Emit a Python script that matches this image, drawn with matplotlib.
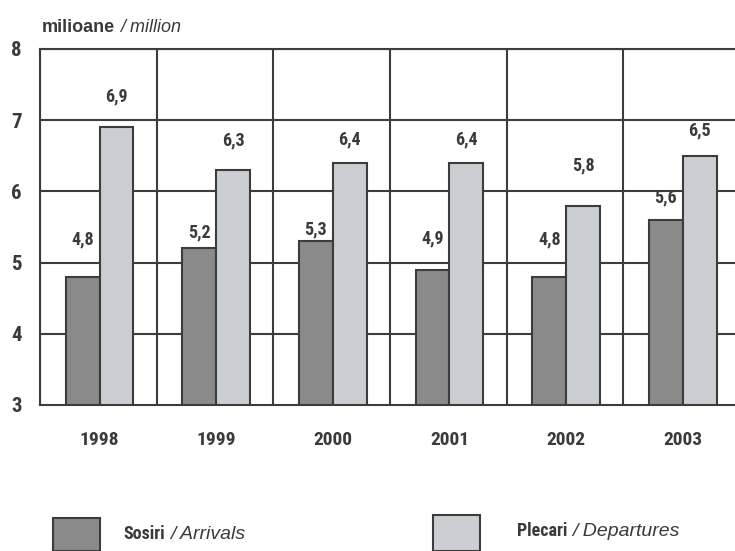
import matplotlib
matplotlib.use("Agg")
import matplotlib.pyplot as plt
from matplotlib import font_manager, patches
import numpy as np

years = ["1998", "1999", "2000", "2001", "2002", "2003"]
arrivals = [4.8, 5.2, 5.3, 4.9, 4.8, 5.6]
departures = [6.9, 6.3, 6.4, 6.4, 5.8, 6.5]
yticks = [3, 4, 5, 6, 7, 8]

# how far each value label sits above its bar, in pixels
arrivalLift = [37, 16, 12, 31, 37, 22]
departureLift = [31, 30, 23, 23, 40, 25]


def weightOf(entry):
    w = entry.weight
    return w if isinstance(w, int) else font_manager.weight_dict.get(w, 400)


def pickNarrowFont():
    candidates = ['Liberation Sans Narrow', 'Arial Narrow', 'Roboto Condensed',
                  'PT Sans Narrow', 'Archivo Narrow', 'Asap Condensed', 'Barlow Condensed']
    entries = font_manager.fontManager.ttflist
    for name in candidates:
        if any(f.name == name and weightOf(f) >= 700 for f in entries):
            return name
    return 'Liberation Sans'


narrowFont = pickNarrowFont()
wideFont = ['Liberation Sans', 'DejaVu Sans']
plt.rcParams['font.family'] = [narrowFont, 'DejaVu Sans']

darkColor = '#8a8a8a'
lightColor = '#cbced3'
edgeColor = '#3c3c3c'
textColor = '#3a3a3a'

fig = plt.figure(figsize=(7.35, 5.51), dpi=100)
ax = fig.add_axes([40 / 735, 1 - 405 / 551, 700 / 735, (405 - 49) / 551])

x = np.arange(len(years))
barWidth = 0.29
offset = 0.01

ax.bar(x + offset - barWidth / 2, [a - 3 for a in arrivals], barWidth, bottom=3,
       color=darkColor, edgecolor=edgeColor, linewidth=1.5, zorder=3)
ax.bar(x + offset + barWidth / 2, [d - 3 for d in departures], barWidth, bottom=3,
       color=lightColor, edgecolor=edgeColor, linewidth=1.5, zorder=3)

for i in range(len(years)):
    ax.annotate(str(arrivals[i]).replace('.', ','), (x[i] + offset - barWidth / 2, arrivals[i]),
                xytext=(0, arrivalLift[i] * 0.72), textcoords='offset points', ha='center',
                va='center', fontsize=13, fontweight='bold', color=textColor)
    ax.annotate(str(departures[i]).replace('.', ','), (x[i] + offset + barWidth / 2, departures[i]),
                xytext=(0, departureLift[i] * 0.72), textcoords='offset points', ha='center',
                va='center', fontsize=13, fontweight='bold', color=textColor)

ax.set_xlim(-0.5, len(years) - 0.5)
ax.set_ylim(3, 8)

# grid: horizontal at each unit, vertical between years
for y in yticks[1:]:
    ax.axhline(y, color=edgeColor, linewidth=1.5, zorder=1)
for b in np.arange(-0.5, len(years), 1.0):
    ax.axvline(b, color=edgeColor, linewidth=1.5, zorder=1)

for side in ['left', 'bottom', 'top']:
    ax.spines[side].set_color(edgeColor)
    ax.spines[side].set_linewidth(1.5)
ax.spines['right'].set_visible(False)

ax.set_yticks(yticks)
ax.set_yticklabels([str(t) for t in yticks], fontsize=15, fontweight='bold', color=textColor)
ax.tick_params(axis='y', length=0, pad=13)
ax.set_xticks(x + offset)
ax.set_xticklabels(years, fontsize=14, fontweight='bold', color=textColor)
ax.tick_params(axis='x', length=0, pad=19)

renderer = fig.canvas.get_renderer()


def twoPartText(px, py, boldPart, italicPart, boldFamily, boldSize, italicSize):
    first = fig.text(px / 735, 1 - py / 551, boldPart, fontsize=boldSize, fontweight='bold',
                     family=boldFamily, color=textColor, va='baseline', ha='left')
    box = first.get_window_extent(renderer)
    fig.text((box.x1 + 5) / 735, 1 - py / 551, '/ ' + italicPart, fontsize=italicSize,
             style='italic', family=wideFont, color=textColor, va='baseline', ha='left')


twoPartText(42, 32, 'milioane', 'million', wideFont, 13, 13)

# legend at the bottom
fig.patches.append(patches.Rectangle((53 / 735, 0), 47 / 735, 33 / 551,
                                     transform=fig.transFigure, facecolor=darkColor,
                                     edgecolor=edgeColor, linewidth=1.5))
fig.patches.append(patches.Rectangle((433 / 735, 0), 47 / 735, 36 / 551,
                                     transform=fig.transFigure, facecolor=lightColor,
                                     edgecolor=edgeColor, linewidth=1.5))
twoPartText(123, 539, 'Sosiri', 'Arrivals', [narrowFont, 'DejaVu Sans'], 13, 14)
twoPartText(517, 536, 'Plecari', 'Departures', [narrowFont, 'DejaVu Sans'], 13, 14)

fig.savefig('out.png', dpi=100)
